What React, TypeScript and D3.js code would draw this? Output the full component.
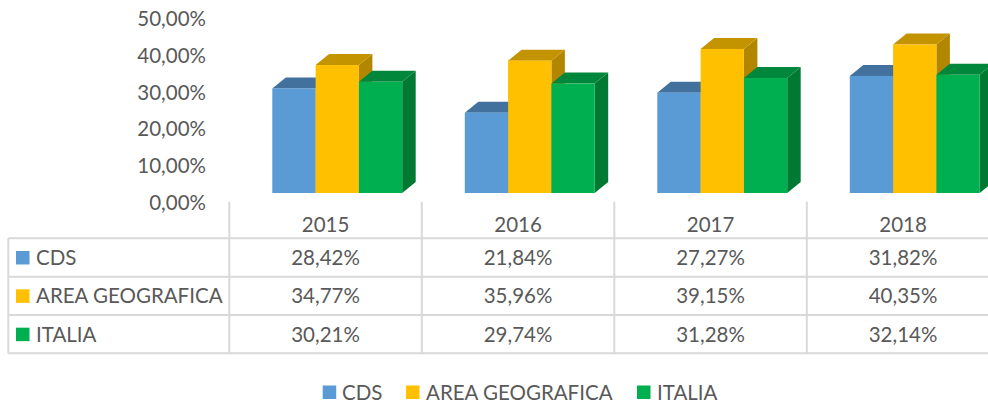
import React from "react";
import * as d3 from "d3";

const years = ["2015", "2016", "2017", "2018"];
const seriesNames = ["CDS", "AREA GEOGRAFICA", "ITALIA"];
const cds = [28.42, 21.84, 27.27, 31.82];
const area = [34.77, 35.96, 39.15, 40.35];
const italia = [30.21, 29.74, 31.28, 32.14];
const yTicks = [0, 10, 20, 30, 40, 50];

const seriesValues = [cds, area, italia];
const colors = [
  { front: "#5B9BD5", top: "#41719C", side: "#3A6690" },
  { front: "#FFC000", top: "#C49300", side: "#B38600" },
  { front: "#00B050", top: "#00873C", side: "#007A32" },
];

const fmt = (v: number) => v.toFixed(2).replace(".", ",") + "%";

const W = 988;
const H = 403;
const FONT = "Lato, 'Open Sans', sans-serif";
const TXT = "#595959";
const GRID = "#D9D9D9";
const FS = 20.5;

export default function App() {
  const x = d3.scaleBand<string>().domain(years).range([229.3, 229.3 + 4 * 192.5]);
  const yBar = d3.scaleLinear().domain([0, 50]).range([193, 9]);
  const yAxis = d3.scaleLinear().domain([0, 50]).range([202.5, 19]);
  const bw = 43.3;
  const inset = 43;
  const dx = 13.5;
  const dy = -11;

  const tableTop = 238.3;
  const rowH = 38.35;
  const tableLeft = 8.3;
  const headerTop = 201.7;
  const tableBottom = tableTop + rowH * 3;

  const bars: React.ReactNode[] = [];
  years.forEach((yr, gi) => {
    seriesValues.forEach((vals, si) => {
      const x0 = (x(yr) as number) + inset + si * bw;
      const x1 = x0 + bw;
      const yt = yBar(vals[gi]);
      const yb = yBar(0);
      const c = colors[si];
      bars.push(
        <g key={`${yr}-${si}`}>
          <path
            d={`M${x1},${yt}L${x1 + dx},${yt + dy}L${x1 + dx},${yb + dy}L${x1},${yb}Z`}
            fill={c.side}
          />
          <path
            d={`M${x0},${yt}L${x0 + dx},${yt + dy}L${x1 + dx},${yt + dy}L${x1},${yt}Z`}
            fill={c.top}
          />
          <rect x={x0} y={yt} width={bw} height={yb - yt} fill={c.front} />
        </g>
      );
    });
  });

  const legendItems = [
    { sq: 322.7, tx: 342 },
    { sq: 406, tx: 426 },
    { sq: 637, tx: 657 },
  ];

  return (
    <svg
      width={W}
      height={H}
      style={{ position: "absolute", left: 0, top: 0, background: "#fff" }}
      fontFamily={FONT}
    >
      <rect width={W} height={H} fill="#fff" />
      {yTicks.map((t) => (
        <text
          key={t}
          x={206}
          y={yAxis(t)}
          dy="0.36em"
          textAnchor="end"
          fontSize={FS}
          fill={TXT}
        >
          {fmt(t)}
        </text>
      ))}
      {bars}
      <g stroke={GRID} strokeWidth={2}>
        {[0, 1, 2, 3].map((i) => (
          <line key={`h${i}`} x1={tableLeft} x2={W} y1={tableTop + i * rowH} y2={tableTop + i * rowH} />
        ))}
        <line x1={tableLeft} x2={tableLeft} y1={tableTop} y2={tableBottom} />
        {years.map((yr) => (
          <line key={`v${yr}`} x1={x(yr) as number} x2={x(yr) as number} y1={headerTop} y2={tableBottom} />
        ))}
      </g>
      {years.map((yr) => (
        <text
          key={`hd${yr}`}
          x={(x(yr) as number) + x.bandwidth() / 2}
          y={225}
          dy="0.36em"
          textAnchor="middle"
          fontSize={FS}
          fill={TXT}
        >
          {yr}
        </text>
      ))}
      {seriesNames.map((name, si) => {
        const cy = tableTop + rowH * si + rowH / 2;
        return (
          <g key={name}>
            <rect x={16} y={cy - 6.5} width={13.5} height={13.5} fill={colors[si].front} />
            <text x={36} y={cy} dy="0.36em" fontSize={FS} fill={TXT}>
              {name}
            </text>
            {years.map((yr, gi) => (
              <text
                key={yr}
                x={(x(yr) as number) + x.bandwidth() / 2}
                y={cy}
                dy="0.36em"
                textAnchor="middle"
                fontSize={FS}
                fill={TXT}
              >
                {fmt(seriesValues[si][gi])}
              </text>
            ))}
          </g>
        );
      })}
      {seriesNames.map((name, si) => (
        <g key={`lg${name}`}>
          <rect x={legendItems[si].sq} y={385.5} width={13.5} height={13.5} fill={colors[si].front} />
          <text x={legendItems[si].tx} y={393} dy="0.36em" fontSize={FS} fill={TXT}>
            {name}
          </text>
        </g>
      ))}
    </svg>
  );
}
